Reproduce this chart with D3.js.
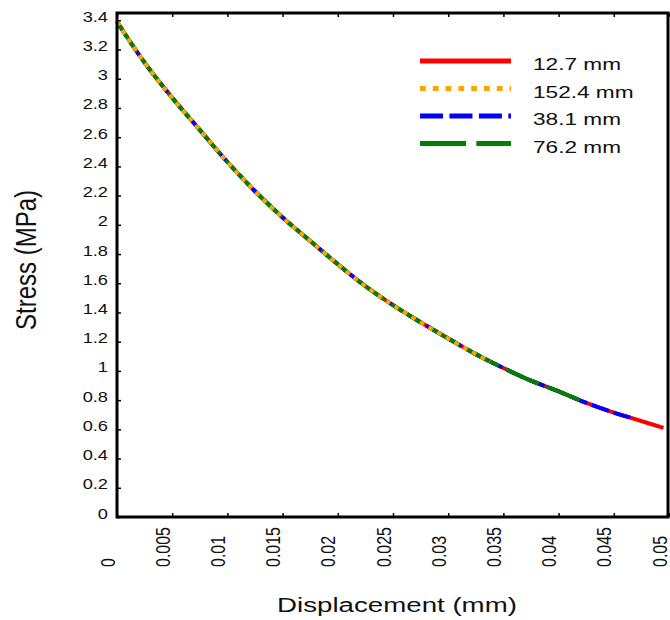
<!DOCTYPE html>
<html>
<head>
<meta charset="utf-8">
<script src="https://cdn.jsdelivr.net/npm/d3@7"></script>
<style>
  body { margin: 0; background: #fff; }
  text { font-family: "Liberation Sans", Arial, sans-serif; fill: #111; }
</style>
</head>
<body>
<div class="chart"></div>
<script>
// data
var displacement = [0, 0.0025, 0.005, 0.0075, 0.01, 0.0125, 0.015, 0.0175, 0.02, 0.0225,
  0.025, 0.0275, 0.03, 0.0325, 0.0338, 0.035, 0.0375, 0.04, 0.0422, 0.045, 0.0465, 0.0495];
var stress = [3.39, 3.11, 2.87, 2.65, 2.43, 2.23, 2.05, 1.89, 1.73, 1.58,
  1.45, 1.333, 1.222, 1.115, 1.064, 1.02, 0.933, 0.86, 0.79, 0.715, 0.68, 0.61];

// each test length stops at a different displacement
var seriesNames = ["12.7 mm", "152.4 mm", "38.1 mm", "76.2 mm"];
var seriesEnd = [0.0495, 0.0338, 0.0465, 0.0422];

var xTicks = [0, 0.005, 0.01, 0.015, 0.02, 0.025, 0.03, 0.035, 0.04, 0.045, 0.05];
var yTicks = [0, 0.2, 0.4, 0.6, 0.8, 1, 1.2, 1.4, 1.6, 1.8, 2, 2.2, 2.4, 2.6, 2.8, 3, 3.2, 3.4];

// styles
var colors = ["#ff0000", "#ffa500", "#0000ff", "#008000"];
var dashes = [null, [4.5, 5.5], [18, 5], [36, 8]];
var drawOrder = [0, 2, 3, 1]; // red under, orange on top

var svgWidth = 670;
var svgHeight = 620;
var margin = { top: 13, right: 1, bottom: 103, left: 117 };
var width = svgWidth - margin.left - margin.right;
var height = svgHeight - margin.top - margin.bottom;
var sx = 1.28; // text in the picture is a bit wide

var svg = d3.select(".chart")
  .append("svg")
  .attr("width", svgWidth)
  .attr("height", svgHeight);

var chartGroup = svg.append("g")
  .attr("transform", `translate(${margin.left}, ${margin.top})`);

var xScale = d3.scaleLinear().domain([0, 0.05]).range([0, width]);
var yScale = d3.scaleLinear().domain([0, 3.45]).range([height, 0]);

// axes, ticks pointing inward
var bottomAxis = d3.axisBottom(xScale).tickValues(xTicks).tickSize(-4).tickFormat(d => String(d));
var topAxis = d3.axisTop(xScale).tickValues(xTicks).tickSize(-4).tickFormat("");
var leftAxis = d3.axisLeft(yScale).tickValues(yTicks).tickSize(-4).tickFormat(d => String(d));

var xAxis = chartGroup.append("g")
  .attr("transform", `translate(0, ${height})`)
  .call(bottomAxis);
xAxis.selectAll("text")
  .attr("x", 0).attr("y", 0).attr("dy", null)
  .attr("text-anchor", "start")
  .style("font-size", "16px")
  .attr("transform", `translate(-3, 50) scale(${sx * 0.95}, 1) rotate(-90)`);

chartGroup.append("g").call(topAxis);

var yAxis = chartGroup.append("g").call(leftAxis);
yAxis.selectAll("text")
  .attr("x", 0).attr("dy", null)
  .attr("text-anchor", "end")
  .style("font-size", "15px")
  .attr("transform", `translate(-9, 1) scale(${sx * 0.95}, 1)`);

chartGroup.selectAll(".domain").remove();
chartGroup.selectAll(".tick line").attr("stroke", "#000").attr("stroke-width", 1.5);
chartGroup.selectAll(".tick text").attr("fill", "#111");

// curves
var line = d3.line()
  .x(d => xScale(d[0]))
  .y(d => yScale(d[1]))
  .curve(d3.curveMonotoneX);

drawOrder.forEach(function(i) {
  var pts = displacement.map((d, j) => [d, stress[j]]).filter(p => p[0] <= seriesEnd[i] + 1e-9);
  chartGroup.append("path")
    .datum(pts)
    .attr("d", line)
    .attr("fill", "none")
    .attr("stroke", colors[i])
    .attr("stroke-width", 4)
    .attr("stroke-dasharray", dashes[i] ? dashes[i].join(",") : null);
});

// frame
chartGroup.append("rect")
  .attr("width", width - 1)
  .attr("height", height)
  .attr("fill", "none")
  .attr("stroke", "#000")
  .attr("stroke-width", 3);

// legend
var legend = svg.append("g").attr("transform", "translate(420, 61)");
seriesNames.forEach(function(name, i) {
  var row = legend.append("g").attr("transform", `translate(0, ${i * 27.5})`);
  row.append("line")
    .attr("x1", 0).attr("x2", 91)
    .attr("stroke", colors[i])
    .attr("stroke-width", 5)
    .attr("stroke-dasharray", dashes[i] ? dashes[i].map(v => v * sx).join(",") : null);
  row.append("text")
    .attr("transform", `translate(113, 9) scale(${sx * 1.04}, 1)`)
    .style("font-size", "17px")
    .text(name);
});

// axis titles
svg.append("text")
  .attr("transform", `translate(397, 612) scale(${sx * 1.03}, 1)`)
  .attr("text-anchor", "middle")
  .style("font-size", "21px")
  .text("Displacement (mm)");

svg.append("text")
  .attr("transform", `translate(36, 260) scale(${sx * 0.95}, 1) rotate(-90)`)
  .attr("text-anchor", "middle")
  .style("font-size", "24px")
  .text("Stress (MPa)");
</script>
</body>
</html>
